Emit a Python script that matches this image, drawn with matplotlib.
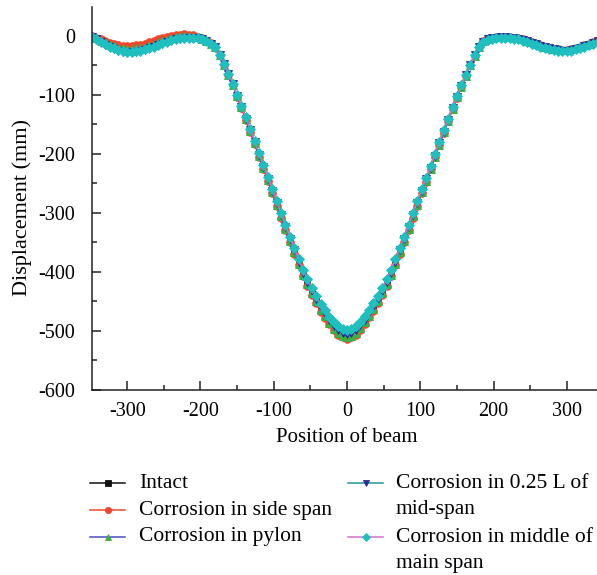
import numpy as np
import matplotlib
matplotlib.use('Agg')
import matplotlib.pyplot as plt
from matplotlib.lines import Line2D
from matplotlib.ticker import MultipleLocator

plt.rcParams['font.family'] = ['Liberation Serif', 'DejaVu Serif']
plt.rcParams['axes.unicode_minus'] = False

# node positions along the deck (m), one every 6 m
position = np.arange(-348, 349, 6)

intact = [-1, -4, -8, -12, -15, -18, -20, -22, -23, -23,
          -22, -21, -19, -16, -14, -11, -9, -6, -4, -2,
          -1, 0, 0, -1, -2, -5, -8, -13, -18, -33,
          -49, -65, -83, -102, -121, -141, -161, -182, -203, -223,
          -244, -264, -285, -305, -326, -347, -366, -386, -404, -420,
          -435, -449, -463, -474, -485, -495, -502, -507, -509, -507,
          -502, -494, -484, -473, -462, -448, -435, -420, -404, -386,
          -366, -347, -326, -305, -285, -264, -244, -224, -204, -183,
          -163, -144, -123, -104, -86, -68, -50, -34, -19, -9,
          -5, -3, -2, -1, -1, -2, -3, -4, -6, -8,
          -11, -13, -16, -18, -20, -22, -23, -24, -24, -23,
          -21, -19, -16, -14, -11, -8, -5]

side_span = [0, -3, -6, -9, -12, -14, -16, -17, -17, -17,
             -16, -15, -13, -11, -9, -6, -4, -2, 0, 2,
             2, 3, 2, 1, -1, -4, -8, -12, -18, -33,
             -49, -66, -83, -103, -122, -142, -162, -183, -205, -225,
             -246, -266, -288, -308, -329, -350, -369, -389, -407, -424,
             -439, -453, -467, -478, -489, -499, -506, -511, -513, -511,
             -506, -498, -488, -477, -466, -452, -439, -424, -407, -389,
             -369, -350, -329, -308, -288, -267, -247, -226, -206, -185,
             -164, -145, -124, -105, -86, -68, -50, -34, -19, -9,
             -5, -3, -2, -1, -1, -2, -3, -4, -6, -8,
             -11, -13, -16, -18, -20, -22, -23, -24, -24, -23,
             -21, -19, -16, -14, -11, -8, -5]

pylon = [-1, -4, -8, -11, -15, -17, -20, -21, -22, -22,
         -21, -20, -18, -15, -14, -11, -8, -6, -3, -2,
         -1, 0, 0, -1, -2, -5, -8, -13, -18, -33,
         -49, -66, -83, -102, -121, -141, -161, -182, -204, -224,
         -244, -264, -286, -306, -327, -348, -367, -387, -405, -421,
         -436, -450, -464, -475, -486, -496, -503, -508, -510, -508,
         -503, -495, -485, -474, -463, -449, -436, -421, -405, -387,
         -367, -348, -327, -306, -286, -265, -245, -225, -205, -184,
         -163, -144, -123, -104, -86, -68, -50, -34, -19, -9,
         -5, -3, -2, -1, -1, -2, -3, -4, -6, -8,
         -11, -13, -16, -18, -20, -22, -23, -24, -24, -23,
         -21, -19, -16, -14, -11, -8, -5]

quarter_mid = [-1, -5, -10, -15, -19, -22, -25, -27, -28, -28,
               -27, -26, -24, -21, -19, -16, -13, -11, -8, -6,
               -5, -4, -4, -3, -4, -6, -9, -13, -18, -32,
               -48, -65, -82, -101, -120, -140, -160, -180, -202, -222,
               -242, -262, -283, -303, -324, -344, -363, -383, -401, -417,
               -432, -446, -460, -471, -482, -491, -498, -503, -505, -503,
               -498, -490, -481, -470, -459, -445, -432, -417, -401, -383,
               -363, -344, -324, -303, -283, -263, -243, -223, -203, -182,
               -162, -143, -122, -103, -85, -67, -49, -33, -19, -10,
               -6, -4, -3, -2, -2, -3, -4, -5, -7, -9,
               -12, -14, -17, -19, -21, -23, -24, -25, -25, -24,
               -22, -20, -17, -15, -12, -9, -6]

middle_main = [-1, -5, -10, -14, -18, -21, -24, -26, -27, -27,
               -26, -25, -23, -20, -18, -15, -12, -10, -7, -5,
               -4, -3, -3, -3, -4, -6, -9, -13, -18, -32,
               -48, -64, -81, -100, -119, -138, -158, -178, -199, -219,
               -239, -259, -280, -300, -320, -340, -359, -378, -396, -412,
               -427, -441, -454, -465, -476, -485, -492, -497, -499, -497,
               -492, -484, -475, -464, -453, -440, -427, -412, -396, -378,
               -359, -340, -320, -300, -280, -260, -240, -220, -200, -180,
               -160, -141, -121, -102, -84, -66, -49, -33, -19, -11,
               -7, -5, -4, -3, -3, -4, -5, -6, -8, -10,
               -13, -15, -18, -20, -22, -24, -25, -26, -26, -25,
               -23, -21, -18, -16, -13, -10, -7]

# label, data, line colour, marker, marker colour, marker size
curves = [
    ('Intact', intact, '#111111', 's', '#111111', 4.5),
    ('Corrosion in side span', side_span, '#f2462a', 'o', '#f2462a', 5.5),
    ('Corrosion in pylon', pylon, '#4a4ac4', '^', '#3cb043', 5.5),
    ('Corrosion in 0.25 L of\nmid-span', quarter_mid, '#1f9a9a', 'v', '#2b2b9c', 5.5),
    ('Corrosion in middle of\nmain span', middle_main, '#d36fc8', 'D', '#1fbfbf', 4.8),
]

W, H = 597.0, 575.0
fig = plt.figure(figsize=(W / 100, H / 100), dpi=100)
ax = fig.add_axes([92 / W, 1 - 390 / H, 510 / W, 383 / H])

for label, y, lc, mk, mc, ms in curves:
    ax.plot(position, y, color=lc, lw=1.1, marker=mk, ms=ms,
            mfc=mc, mec=mc, mew=0.6)

ax.set_xlim(-348, 348)
ax.set_ylim(-600, 49)
ax.set_xticks(np.arange(-300, 301, 100))
ax.set_yticks(np.arange(-600, 1, 100))
ax.xaxis.set_minor_locator(MultipleLocator(50))
ax.yaxis.set_minor_locator(MultipleLocator(50))
ax.tick_params(which='both', direction='in', width=1.1, color='#222222',
               labelsize=14.5, top=False, right=False)
ax.tick_params(which='major', length=6.5)
ax.tick_params(which='minor', length=3.5)
ax.tick_params(axis='x', pad=9)
ax.tick_params(axis='y', pad=12)
for s in ['top', 'right']:
    ax.spines[s].set_visible(False)
for s in ['left', 'bottom']:
    ax.spines[s].set_linewidth(1.1)
    ax.spines[s].set_color('#222222')

fig.text(347 / W, 1 - 437 / H, 'Position of beam', ha='center', va='center',
         fontsize=15)
fig.text(22 / W, 1 - 207 / H, 'Displacement (mm)', ha='center', va='center',
         rotation=90, fontsize=16)

# legend drawn by hand: two columns, second column has two-line labels
rows = [(90, 139, 483), (90, 139, 510), (90, 139, 537),
        (348, 396, 483), (348, 396, 537)]
for (label, y, lc, mk, mc, ms), (hx, tx, ty) in zip(curves, rows):
    yy = 1 - ty / H
    fig.add_artist(Line2D([hx / W, (hx + 35) / W], [yy, yy], color=lc, lw=1.1))
    fig.add_artist(Line2D([(hx + 17.5) / W], [yy], marker=mk, ms=4.5,
                          mfc=mc, mec=mc, mew=0.6))
    for i, line in enumerate(label.split('\n')):
        fig.text(tx / W, 1 - (ty + 26.5 * i) / H, line, ha='left',
                 va='center', fontsize=15.5)

fig.savefig('out.png', dpi=100)
